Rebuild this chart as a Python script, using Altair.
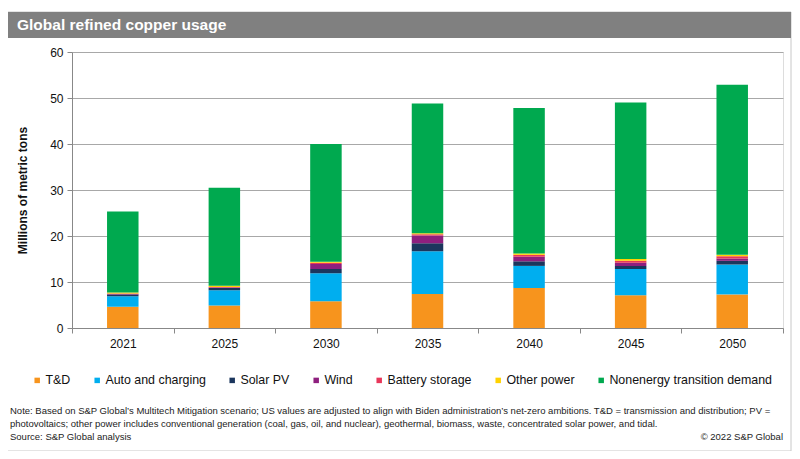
import altair as alt
import pandas as pd

years = ["2021", "2025", "2030", "2035", "2040", "2045", "2050"]
series = ["T&D", "Auto and charging", "Solar PV", "Wind", "Battery storage",
          "Other power", "Nonenergy transition demand"]
td = [4.6, 4.9, 5.8, 7.4, 8.7, 7.1, 7.3]
auto = [2.3, 3.3, 6.1, 9.3, 4.8, 5.7, 6.5]
solar = [0.4, 0.5, 0.9, 1.7, 1.0, 0.7, 0.8]
wind = [0.1, 0.1, 1.1, 1.7, 1.0, 0.7, 0.5]
battery = [0.1, 0.1, 0.3, 0.3, 0.4, 0.4, 0.5]
other = [0.2, 0.3, 0.2, 0.2, 0.3, 0.4, 0.3]
nonenergy = [17.6, 21.3, 25.6, 28.2, 31.6, 34.0, 37.0]
colors = ["#F7941D", "#00AEEF", "#1B365D", "#8E1F7E", "#E8375A", "#FFD200", "#00A94F"]

title_text = "Global refined copper usage"
y_title = "Millions of metric tons"
note1 = ("Note: Based on S&P Global\u2019s Multitech Mitigation scenario; US values are adjusted to align with "
         "Biden administration\u2019s net-zero ambitions. T&D = transmission and distribution; PV =")
note2 = ("photovoltaics; other power includes conventional generation (coal, gas, oil, and nuclear), "
         "geothermal, biomass, waste, concentrated solar power, and tidal.")
source = "Source: S&P Global analysis"
copyright_text = "\u00a9 2022 S&P Global"

FONT = "Liberation Sans"

rows = []
for i, (name, vals) in enumerate(zip(series, [td, auto, solar, wind, battery, other, nonenergy])):
    for y, v in zip(years, vals):
        rows.append({"year": y, "series": name, "value": v, "idx": i})
df = pd.DataFrame(rows)
one = pd.DataFrame({"a": [0]})

frame = alt.Chart(one).mark_rect(fillOpacity=0, stroke="#c8c8c8", strokeWidth=1).encode(
    x=alt.value(-66), x2=alt.value(719), y=alt.value(-40), y2=alt.value(399))
header = alt.Chart(one).mark_rect(fill="#808080").encode(
    x=alt.value(-66), x2=alt.value(719), y=alt.value(-40), y2=alt.value(-14))
header_txt = alt.Chart(one).mark_text(
    align="left", baseline="middle", font=FONT, fontSize=15.5, fontWeight="bold", color="white"
).encode(x=alt.value(-55), y=alt.value(-27), text=alt.value(title_text))

bars = alt.Chart(df).mark_bar(width=alt.RelativeBandSize(0.31)).encode(
    x=alt.X("year:N", sort=years,
            scale=alt.Scale(paddingInner=0, paddingOuter=0),
            axis=alt.Axis(title=None, labelAngle=0, tickBand="extent", tickSize=5,
                          domainColor="#888888", tickColor="#888888", labelColor="#111111",
                          labelFontSize=12, labelPadding=5, labelFont=FONT, grid=False)),
    y=alt.Y("value:Q", stack="zero",
            scale=alt.Scale(domain=[0, 60], nice=False),
            axis=alt.Axis(title=y_title, titleFont=FONT, titleFontSize=12, titleFontWeight="bold",
                          titleColor="#111111", titlePadding=20,
                          values=[0, 10, 20, 30, 40, 50, 60], tickSize=5,
                          domainColor="#888888", tickColor="#888888", gridColor="#a8a8a8",
                          labelFont=FONT, labelFontSize=12, labelColor="#111111", labelPadding=4)),
    color=alt.Color("series:N", sort=series,
                    scale=alt.Scale(domain=series, range=colors),
                    legend=alt.Legend(title=None, orient="none", direction="horizontal",
                                      legendX=-41, legendY=322, symbolType="square",
                                      symbolSize=30, labelFont=FONT, labelFontSize=12.4,
                                      labelColor="#111111", columnPadding=20, labelOffset=2,
                                      labelLimit=400, symbolStrokeWidth=0)),
    order=alt.Order("idx:Q", sort="ascending"),
)

def txt(s, x, y, align="left"):
    return alt.Chart(one).mark_text(
        align=align, baseline="middle", font=FONT, fontSize=9.5, color="#222222"
    ).encode(x=alt.value(x), y=alt.value(y), text=alt.value(s))

chart = alt.layer(
    frame, header, header_txt, bars,
    txt(note1, -62, 359), txt(note2, -62, 372), txt(source, -62, 385),
    txt(copyright_text, 711, 385, align="right"),
).properties(
    width=711, height=276,
    padding={"left": 64, "top": 44, "right": 9, "bottom": 123},
    autosize=alt.AutoSizeParams(type="none"),
).configure_view(stroke=None).configure(background="white")

chart.save("out.html", embed_options={"renderer": "svg", "actions": False})
